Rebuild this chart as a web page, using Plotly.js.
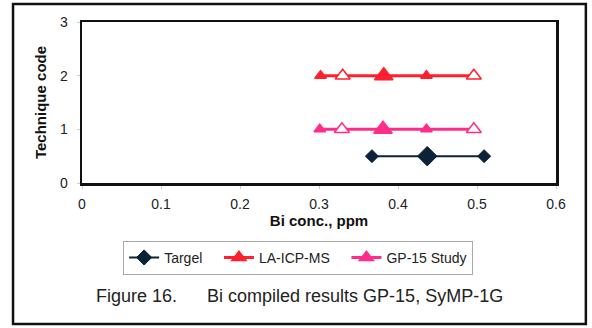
<!DOCTYPE html>
<html>
<head>
<meta charset="utf-8">
<script src="https://cdn.plot.ly/plotly-3.0.1.min.js"></script>
<style>html,body{margin:0;padding:0;background:#fff;}#chart{width:592px;height:328px;}</style>
</head>
<body>
<div id="chart"></div>
<script>
// Data
const seriesNames = ["Targel", "LA-ICP-MS", "GP-15 Study"];
const targetX = [0.367, 0.437, 0.509];
const targetY = [0.5, 0.5, 0.5];
const laX = [0.302, 0.330, 0.382, 0.436, 0.496];
const laY = [2, 2, 2, 2, 2];
const gpX = [0.301, 0.329, 0.381, 0.436, 0.496];
const gpY = [1, 1, 1, 1, 1];
const xTicks = [0, 0.1, 0.2, 0.3, 0.4, 0.5, 0.6];
const xTickText = ["0", "0.1", "0.2", "0.3", "0.4", "0.5", "0.6"];
const yTicks = [0, 1, 2, 3];
const captionText = "Figure 16.      Bi compiled results GP-15, SyMP-1G";

const pad = "\u00a0\u00a0\u00a0";
const navy = "#0c2238", red = "#ff1f2d", pink = "#ff2d8a";
function triStyle(col){
  return {
    symbol: "triangle-up",
    size: [10, 13, 16, 10, 13],
    color: [col, "#ffffff", col, col, "#ffffff"],
    opacity: 1,
    line: {color: col, width: 1.5}
  };
}
const traces = [
  {x: targetX, y: targetY, name: seriesNames[0] + pad, mode: "lines+markers", type: "scatter",
   line: {color: navy, width: 2},
   marker: {symbol: "diamond", size: [10, 15, 10], color: navy, opacity: 1, line: {color: navy, width: 1}}},
  {x: laX, y: laY, name: seriesNames[1] + pad, mode: "lines+markers", type: "scatter",
   line: {color: red, width: 3}, marker: triStyle(red)},
  {x: gpX, y: gpY, name: seriesNames[2], mode: "lines+markers", type: "scatter",
   line: {color: pink, width: 3}, marker: triStyle(pink)}
];

const fnt = "Arial, 'Liberation Sans', sans-serif";
const layout = {
  width: 592, height: 328,
  margin: {l: 82, r: 36, t: 22, b: 145},
  paper_bgcolor: "#fff", plot_bgcolor: "#fff",
  showlegend: true,
  legend: {
    orientation: "h", x: 0.456, xanchor: "center", y: -0.465, yanchor: "middle",
    bordercolor: "#aaa", borderwidth: 1, bgcolor: "#fff",
    font: {family: fnt, size: 14, color: "#222"},
    itemwidth: 30, traceorder: "normal"
  },
  xaxis: {
    range: [0, 0.6], tickvals: xTicks, ticktext: xTickText,
    showgrid: false, zeroline: false, showline: true, mirror: true,
    linecolor: "#111", linewidth: 2.5, ticks: "outside", ticklen: 3, tickcolor: "#ccc",
    ticklabelstandoff: 4,
    tickfont: {family: fnt, size: 14, color: "#222"},
    title: {text: "<b>Bi conc., ppm</b>", font: {family: fnt, size: 15, color: "#111"}, standoff: 2},
    fixedrange: true
  },
  yaxis: {
    range: [0, 3], tickvals: yTicks,
    showgrid: false, zeroline: false, showline: true, mirror: true,
    linecolor: "#111", linewidth: 2.5, ticks: "outside", ticklen: 3, tickcolor: "#ccc",
    ticklabelstandoff: 6,
    tickfont: {family: fnt, size: 14, color: "#222"},
    title: {text: "<b>Technique code</b>", font: {family: fnt, size: 15, color: "#111"}, standoff: 10},
    fixedrange: true
  },
  shapes: [{
    type: "rect", xref: "paper", yref: "paper",
    x0: -0.1455, x1: 1.063, y0: -0.876, y1: 1.112,
    line: {color: "#111", width: 2.5}, fillcolor: "rgba(0,0,0,0)"
  }],
  annotations: [{
    text: captionText, xref: "paper", yref: "paper",
    x: 0.458, y: -0.70, xanchor: "center", yanchor: "middle", showarrow: false,
    font: {family: fnt, size: 18, color: "#222"}
  }]
};
Plotly.newPlot("chart", traces, layout, {displayModeBar: false, staticPlot: true});
</script>
</body>
</html>
